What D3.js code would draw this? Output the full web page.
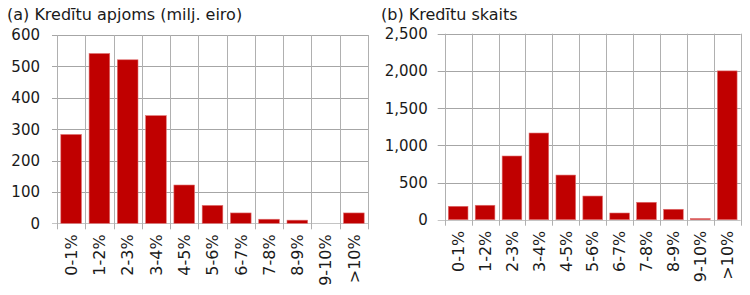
<!DOCTYPE html>
<html><head><meta charset="utf-8">
<script src="https://cdn.jsdelivr.net/npm/d3@7"></script>
<style>body{margin:0;background:#fff}svg{display:block}text{font-family:"DejaVu Sans",sans-serif;fill:#1a1a1a}</style>
</head><body>
<svg id="c" width="750" height="295"></svg>
<script>
const categories = ["0-1%","1-2%","2-3%","3-4%","4-5%","5-6%","6-7%","7-8%","8-9%","9-10%",">10%"];
const volumeValues = [283,541,521,343,122,57,33,13,10,0,33];
const countValues = [180,194,856,1165,600,318,90,234,140,15,2000];
const volumeTicks = [0,100,200,300,400,500,600];
const countTicks = [0,500,1000,1500,2000,2500];
const titles = ["(a) Kredītu apjoms (milj. eiro)","(b) Kredītu skaits"];

const svg = d3.select("#c");

function panel(opts){
  const {x0,x1,yTop,yBot,values,ticks,title,fmt,titleX,tickLen} = opts;
  const g = svg.append("g");
  const x = d3.scaleBand().domain(categories).range([x0,x1]).paddingInner(0.27).paddingOuter(0.135);
  const xb = d3.scaleBand().domain(categories).range([x0,x1]);
  const y = d3.scaleLinear().domain([0,d3.max(ticks)]).range([yBot,yTop]);
  // horizontal grid
  g.selectAll("line.h").data(ticks).join("line")
    .attr("x1",x0-tickLen).attr("x2",x1).attr("y1",d=>Math.round(y(d))+0.5).attr("y2",d=>Math.round(y(d))+0.5)
    .attr("stroke",d=>d===0?"#c4c4c4":"#a6a6a6").attr("stroke-width",1);
  // vertical grid (band boundaries)
  const bounds = categories.map(c=>xb(c)).concat([x1]);
  g.selectAll("line.v").data(bounds).join("line")
    .attr("x1",d=>Math.round(d)+0.5).attr("x2",d=>Math.round(d)+0.5)
    .attr("y1",yTop).attr("y2",yBot+6)
    .attr("stroke","#b0b0b0").attr("stroke-width",1);
  // bars
  g.selectAll("rect").data(values).join("rect")
    .attr("x",(d,i)=>x(categories[i])).attr("width",x.bandwidth())
    .attr("y",d=>y(d)).attr("height",d=>yBot-y(d))
    .attr("fill","#c00000").attr("stroke","#e07070").attr("stroke-width",0.6);
  // y labels
  g.selectAll("text.y").data(ticks).join("text")
    .attr("x",x0-17).attr("y",d=>y(d)).attr("dy","0.36em").attr("text-anchor","end")
    .attr("font-size",15).text(fmt);
  // x labels
  g.selectAll("text.x").data(categories).join("text")
    .attr("transform",d=>`translate(${xb(d)+xb.bandwidth()/2},${yBot+11}) rotate(-90)`)
    .attr("text-anchor","end").attr("dy","0.36em").attr("font-size",16).text(d=>d);
  svg.append("text").attr("x",titleX).attr("y",20).attr("font-size",16).text(title);
}

panel({x0:57,x1:368,yTop:35,yBot:223.3,values:volumeValues,ticks:volumeTicks,title:titles[0],fmt:d3.format(","),titleX:7,tickLen:5});
panel({x0:444.7,x1:740.7,yTop:33.7,yBot:219.7,values:countValues,ticks:countTicks,title:titles[1],fmt:d3.format(","),titleX:381,tickLen:7});
</script>
</body></html>
